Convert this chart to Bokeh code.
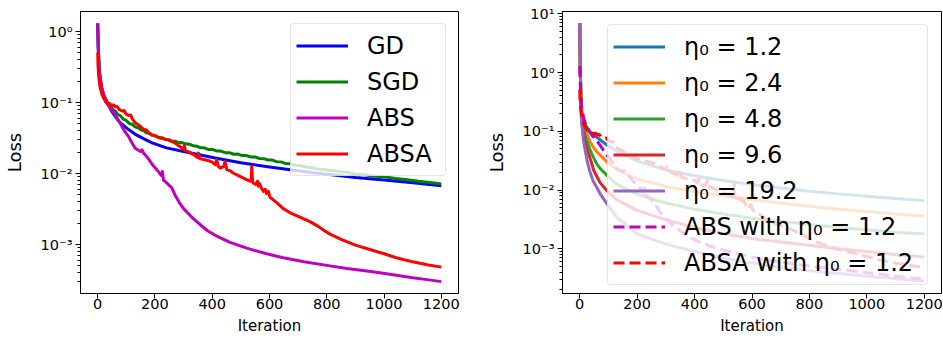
from bokeh.plotting import figure
from bokeh.layouts import row
from bokeh.models import Range1d, FixedTicker, CustomJSTickFormatter, Legend, LegendItem
from bokeh.embed import file_html
from bokeh.resources import INLINE

# ---------------- data ----------------
# Left panel
iters_gd = [0, 2, 5, 9, 15, 21, 33, 50, 73, 100, 130, 160, 190, 240, 300, 360, 410, 500,
            600, 672, 750, 811, 900, 1000, 1100, 1200]
loss_gd = [1.30, 0.60, 0.30, 0.20, 0.15, 0.125, 0.100, 0.074, 0.055, 0.044, 0.036, 0.031,
           0.027, 0.023, 0.0205, 0.0183, 0.0166, 0.0142, 0.0124, 0.0113, 0.0103, 0.0097,
           0.0088, 0.0081, 0.0074, 0.0067]

iters_sgd = [0, 2, 5, 9, 15, 21, 33, 45, 55, 62, 70, 80, 90, 100, 110, 120, 131, 142, 152,
             160, 170, 180, 190, 200, 212, 224, 236, 248, 260, 272, 284, 295, 306, 320, 334,
             346, 358, 372, 386, 400, 415, 430, 445, 460, 475, 490, 505, 520, 535, 550, 565,
             580, 595, 610, 625, 640, 655, 672, 690, 710, 730, 750, 770, 790, 810, 830, 846,
             870, 900, 930, 960, 1000, 1040, 1080, 1120, 1160, 1200]
loss_sgd = [1.30, 0.60, 0.30, 0.21, 0.15, 0.126, 0.103, 0.089, 0.078, 0.076, 0.068, 0.065,
            0.058, 0.056, 0.051, 0.0495, 0.0455, 0.0440, 0.0410, 0.0405, 0.0375, 0.0370,
            0.0345, 0.0345, 0.0322, 0.0320, 0.0302, 0.0300, 0.0285, 0.0284, 0.0271, 0.0273,
            0.0262, 0.0259, 0.0246, 0.0243, 0.0231, 0.0230, 0.0219, 0.0219, 0.0208, 0.0207,
            0.0197, 0.0197, 0.0187, 0.0188, 0.0179, 0.0179, 0.0171, 0.0171, 0.0163, 0.0162,
            0.0155, 0.0155, 0.0147, 0.0146, 0.0139, 0.0137, 0.0131, 0.0129, 0.0123, 0.0121,
            0.0116, 0.0115, 0.0110, 0.0110, 0.0106, 0.0104, 0.0098, 0.0097, 0.0092, 0.0090,
            0.0085, 0.0082, 0.0078, 0.0075, 0.0071]

iters_abs = [0, 2, 5, 9, 15, 21, 33, 45, 62, 73, 85, 95, 108, 120, 131, 145, 150, 155, 160,
             166, 178, 190, 205, 215, 222, 226, 230, 236, 250, 259, 270, 285, 300, 330, 358,
             385, 416, 460, 500, 532, 590, 648, 720, 811, 870, 927, 985, 1043, 1100, 1150, 1200]
loss_abs = [1.30, 0.60, 0.30, 0.22, 0.16, 0.13, 0.100, 0.083, 0.0666, 0.056, 0.0457, 0.039,
            0.033, 0.027, 0.0227, 0.0210, 0.0205, 0.0215, 0.0195, 0.0183, 0.0160, 0.0135,
            0.0115, 0.0103, 0.0094, 0.0107, 0.0080, 0.0077, 0.0068, 0.0063, 0.0050, 0.0039,
            0.0032, 0.0024, 0.0019, 0.00155, 0.00131, 0.00108, 0.00095, 0.00086, 0.00074,
            0.00065, 0.00057, 0.00050, 0.00046, 0.00043, 0.00040, 0.00037, 0.00034, 0.00032,
            0.00030]

iters_absa = [0, 1, 3, 6, 9, 15, 21, 28, 36, 42, 48, 55, 62, 68, 75, 85, 92, 100, 108, 115,
              122, 131, 140, 150, 160, 170, 180, 190, 200, 215, 230, 248, 262, 275, 290, 300,
              303, 306, 320, 335, 345, 350, 352, 356, 370, 385, 400, 410, 414, 416, 420, 428,
              440, 445, 451, 462, 474, 490, 509, 520, 532, 536, 538, 541, 544, 552, 558, 561,
              565, 572, 579, 585, 590, 596, 602, 612, 625, 648, 672, 700, 741, 770, 788, 811,
              850, 900, 950, 1000, 1043, 1100, 1150, 1200]
loss_absa = [0.51, 0.35, 0.25, 0.19, 0.16, 0.13, 0.115, 0.102, 0.094, 0.097, 0.090, 0.093,
             0.087, 0.088, 0.080, 0.076, 0.077, 0.068, 0.066, 0.067, 0.058, 0.052, 0.049,
             0.046, 0.042, 0.041, 0.037, 0.035, 0.034, 0.032, 0.031, 0.0296, 0.028, 0.026,
             0.0235, 0.022, 0.0248, 0.021, 0.0200, 0.0185, 0.0172, 0.0168, 0.0194, 0.0163,
             0.0158, 0.0153, 0.0145, 0.0133, 0.0150, 0.0156, 0.0128, 0.0119, 0.0125, 0.0148,
             0.0113, 0.0110, 0.0101, 0.0094, 0.0086, 0.0082, 0.0078, 0.0080, 0.0126, 0.0076,
             0.0073, 0.0070, 0.0078, 0.0066, 0.0072, 0.0062, 0.0056, 0.0060, 0.0052, 0.0056,
             0.0046, 0.0043, 0.0039, 0.0032, 0.0028, 0.0025, 0.0021, 0.0018, 0.0016, 0.0014,
             0.00118, 0.00098, 0.00085, 0.00074, 0.00065, 0.00057, 0.00052, 0.00048]

# Right panel: constant step sizes
etas = [1.2, 2.4, 4.8, 9.6, 19.2]
iters_eta = [0, 1, 2, 4, 6, 9, 13, 20, 26, 35, 43, 49, 61, 72, 95, 130, 200, 300, 400, 500,
             600, 700, 800, 900, 1000, 1100, 1200]
loss_eta_1_2 = [7.0, 3.0, 1.2, 0.45, 0.26, 0.18, 0.15, 0.128, 0.115, 0.100, 0.092, 0.086,
                0.078, 0.071, 0.058, 0.046, 0.031, 0.022, 0.0175, 0.0145, 0.0124, 0.0108,
                0.0095, 0.0086, 0.0078, 0.0072, 0.0066]
loss_eta_2_4 = [7.0, 3.0, 1.2, 0.45, 0.25, 0.17, 0.13, 0.100, 0.087, 0.068, 0.058, 0.052,
                0.044, 0.039, 0.030, 0.022, 0.0155, 0.0115, 0.0094, 0.0079, 0.0068, 0.0060,
                0.0053, 0.0047, 0.0043, 0.0039, 0.0036]
loss_eta_4_8 = [7.0, 3.0, 1.2, 0.42, 0.22, 0.15, 0.11, 0.080, 0.066, 0.050, 0.040, 0.035,
                0.027, 0.023, 0.0178, 0.0125, 0.0085, 0.0060, 0.0047, 0.0039, 0.0033, 0.0029,
                0.0026, 0.0023, 0.0021, 0.0019, 0.0018]
loss_eta_9_6 = [7.0, 3.0, 1.1, 0.38, 0.20, 0.12, 0.085, 0.060, 0.048, 0.036, 0.027, 0.0215,
                0.0165, 0.0131, 0.0097, 0.0068, 0.0045, 0.0031, 0.0023, 0.0018, 0.0015,
                0.0013, 0.00115, 0.0010, 0.0009, 0.0008, 0.00072]
loss_eta_19_2 = [7.0, 3.0, 1.0, 0.32, 0.16, 0.11, 0.070, 0.045, 0.031, 0.021, 0.016, 0.0135,
                 0.0107, 0.0085, 0.0058, 0.0034, 0.0018, 0.0012, 0.0009, 0.00069, 0.00057,
                 0.00048, 0.00042, 0.00038, 0.00034, 0.00031, 0.00028]
loss_eta = [loss_eta_1_2, loss_eta_2_4, loss_eta_4_8, loss_eta_9_6, loss_eta_19_2]

x_ticks = [0, 200, 400, 600, 800, 1000, 1200]

# ---------------- styling ----------------
FONT = "DejaVu Sans"
LW = 3
tab_colors = ["#1f77b4", "#ff7f0e", "#2ca02c", "#d62728", "#9467bd"]

sup_js = """
const m = {"-": "\u207b", "0": "\u2070", "1": "\u00b9", "2": "\u00b2", "3": "\u00b3",
           "4": "\u2074", "5": "\u2075", "6": "\u2076", "7": "\u2077", "8": "\u2078", "9": "\u2079"};
const e = Math.round(Math.log10(tick));
return "10" + String(e).split("").map(c => m[c]).join("");
"""


def log_ticks(lo_exp, hi_exp):
    major = [10.0 ** e for e in range(lo_exp, hi_exp + 1)]
    minor = [k * 10.0 ** e for e in range(lo_exp - 1, hi_exp + 1) for k in range(2, 10)]
    return major, minor


def make_fig(width, ylo, yhi, lo_exp, hi_exp, bl, br, bt):
    p = figure(width=width, height=339, x_range=Range1d(-60, 1260),
               y_range=Range1d(ylo, yhi), y_axis_type="log",
               output_backend="svg", toolbar_location=None,
               min_border_left=bl, min_border_right=br, min_border_top=bt,
               min_border_bottom=46)
    p.background_fill_color = "white"
    p.border_fill_color = "white"
    p.outline_line_color = "black"
    p.outline_line_width = 1
    p.outline_line_alpha = 1
    p.xgrid.visible = False
    p.ygrid.visible = False
    major, minor = log_ticks(lo_exp, hi_exp)
    p.yaxis.ticker = FixedTicker(ticks=major, minor_ticks=minor)
    p.yaxis.formatter = CustomJSTickFormatter(code=sup_js)
    p.xaxis.ticker = FixedTicker(ticks=x_ticks, minor_ticks=[])
    for ax in (p.xaxis[0], p.yaxis[0]):
        ax.axis_line_color = "black"
        ax.major_tick_line_color = "black"
        ax.minor_tick_line_color = "black"
        ax.major_tick_in = 0
        ax.major_tick_out = 5
        ax.minor_tick_in = 0
        ax.minor_tick_out = 3
        ax.major_label_text_font = FONT
        ax.major_label_text_font_size = "14.5px"
        ax.major_label_text_color = "black"
        ax.axis_label_text_font = FONT
        ax.axis_label_text_font_style = "normal"
        ax.axis_label_text_color = "black"
    p.yaxis.major_label_standoff = 3
    p.xaxis.major_label_standoff = 0
    p.xaxis.axis_label = "Iteration"
    p.xaxis.axis_label_text_font_size = "15px"
    p.xaxis.axis_label_standoff = 5
    p.yaxis.axis_label = "Loss"
    p.yaxis.axis_label_text_font_size = "18px"
    p.yaxis.axis_label_standoff = 13
    return p


def legend_for(items, margin, standoff, label_width):
    kw = dict(items=items, location="top_right", margin=margin, padding=5,
              spacing=3, glyph_width=52, glyph_height=33, label_height=33,
              label_width=label_width,
              label_standoff=standoff, label_text_font=FONT,
              label_text_font_size="24px", label_text_color="black",
              border_line_color="#cccccc", border_line_width=1,
              background_fill_color="white", background_fill_alpha=0.8)
    if "border_radius" in Legend.properties():
        kw["border_radius"] = 4
    return Legend(**kw)


line_kw = dict(line_width=LW, line_join="round")

# ---------------- left panel ----------------
p1 = make_fig(470, 2.04e-4, 1.92, -3, 0, 80, 12, 9)
r_gd = p1.line(iters_gd, loss_gd, line_color="#0000ff", **line_kw)
r_sgd = p1.line(iters_sgd, loss_sgd, line_color="#008000", **line_kw)
r_abs = p1.line(iters_abs, loss_abs, line_color="#bf00bf", **line_kw)
r_absa = p1.line(iters_absa, loss_absa, line_color="#ff0000", **line_kw)
p1.add_layout(legend_for([
    LegendItem(label="GD", renderers=[r_gd]),
    LegendItem(label="SGD", renderers=[r_sgd]),
    LegendItem(label="ABS", renderers=[r_abs]),
    LegendItem(label="ABSA", renderers=[r_absa]),
], 12, 19, 73))

# ---------------- right panel ----------------
p2 = make_fig(473, 1.73e-4, 10.96, -3, 1, 92, 2, 11)
renderers = []
for ys, c in zip(loss_eta, tab_colors):
    renderers.append(p2.line(iters_eta, ys, line_color=c, **line_kw))
renderers.append(p2.line(iters_abs, loss_abs, line_color="#bf00bf", line_dash="11 5", **line_kw))
renderers.append(p2.line(iters_absa, loss_absa, line_color="#ff0000", line_dash="11 5", **line_kw))

labels = ["\u03b7\u2080 = %s" % e for e in etas]
labels += ["ABS with \u03b7\u2080 = %s" % etas[0], "ABSA with \u03b7\u2080 = %s" % etas[0]]
p2.add_layout(legend_for([LegendItem(label=l, renderers=[r]) for l, r in zip(labels, renderers)],
                         13, 19, 238))

layout = row(p1, p2)
open("out.html", "w").write(file_html(layout, INLINE))
